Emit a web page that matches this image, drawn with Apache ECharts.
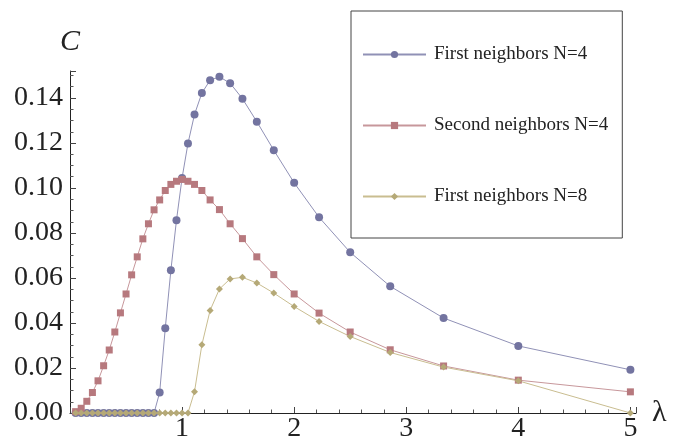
<!DOCTYPE html>
<html><head><meta charset="utf-8">
<script src="https://cdn.jsdelivr.net/npm/echarts@6/dist/echarts.min.js"></script>
<style>html,body{margin:0;padding:0;background:#fff}#c{width:687px;height:439px}</style>
</head><body><div id="c"></div>
<script>
// λ sample points
const lambda = [0.05,0.10,0.15,0.20,0.25,0.30,0.35,0.40,0.45,0.50,
  0.55,0.60,0.65,0.70,0.75,0.80,0.85,0.90,0.95,1.00,
  1.0526,1.1111,1.1765,1.25,1.3333,1.4286,1.5385,1.6667,1.8182,2.0,
  2.2222,2.5,2.8571,3.3333,4.0,5.0];
const firstN4 = [0,0,0,0,0,0,0,0,0,0,
  0,0,0,0,0,0.0091,0.0377,0.0634,0.0857,0.1045,
  0.1198,0.1327,0.1422,0.1479,0.1494,0.1466,0.1397,0.1295,0.1168,0.1023,
  0.0870,0.0714,0.0563,0.0422,0.0298,0.0192];
const secondN4 = [0.0006,0.0021,0.0052,0.0091,0.0143,0.0210,0.0280,0.0360,0.0445,0.0529,
  0.0614,0.0694,0.0774,0.0841,0.0903,0.0947,0.0989,0.1016,0.1030,0.1038,
  0.1030,0.1016,0.0989,0.0947,0.0904,0.0841,0.0775,0.0694,0.0615,0.0529,
  0.0444,0.0360,0.0281,0.0209,0.0146,0.0094];
const firstN8 = [0,0,0,0,0,0,0,0,0,0,
  0,0,0,0,0,0,0,0,0,0,
  0,0.0095,0.0303,0.0456,0.0551,0.0596,0.0603,0.0578,0.0533,0.0473,
  0.0407,0.0340,0.0269,0.0204,0.0143,0.0];
const seriesNames = ['First neighbors N=4','Second neighbors N=4','First neighbors N=8'];
const xTickLabels = [1,2,3,4,5];
const yTickLabels = [0,0.02,0.04,0.06,0.08,0.10,0.12,0.14];

const font = "'Liberation Serif','Times New Roman',serif";
const pair = arr => lambda.map((x,i)=>[x, arr[i]]);
const near = (v, list) => list.some(t => Math.abs(t - v) < 1e-9);

const chart = echarts.init(document.getElementById('c'), null, {renderer:'canvas'});
const axisCommon = {
  type:'value',
  axisLine:{show:true, onZero:false, lineStyle:{color:'#222', width:1}},
  axisTick:{show:true, inside:true, length:6, lineStyle:{color:'#444', width:1}},
  minorTick:{show:true, length:3.5, lineStyle:{color:'#555', width:1}},
  splitLine:{show:false}, minorSplitLine:{show:false}
};
chart.setOption({
  animation:false,
  backgroundColor:'#fff',
  grid:{left:70, right:51, top:71, bottom:26, containLabel:false, outerBoundsMode:'none'},
  xAxis:Object.assign({}, axisCommon, {
    min:0, max:5.05, interval:1,
    minorTick:Object.assign({}, axisCommon.minorTick, {splitNumber:5}),
    name:'λ', nameLocation:'end', nameGap:16,
    nameTextStyle:{fontFamily:font, fontSize:30, color:'#222', align:'left', verticalAlign:'middle', padding:[0,0,4,0]},
    axisLabel:{fontFamily:font, fontSize:28, lineHeight:22, verticalAlign:'top', color:'#222', margin:5,
      showMinLabel:false, showMaxLabel:false,
      formatter: v => near(v, xTickLabels) ? String(v) : ''}
  }),
  yAxis:Object.assign({}, axisCommon, {
    min:0, max:0.152, interval:0.02,
    minorTick:Object.assign({}, axisCommon.minorTick, {splitNumber:4}),
    name:'C', nameLocation:'end', nameGap:29,
    nameTextStyle:{fontFamily:font, fontSize:30, fontStyle:'italic', color:'#222', align:'center', verticalAlign:'middle'},
    axisLabel:{fontFamily:font, fontSize:28, color:'#222', margin:7, showMaxLabel:false,
      formatter: v => near(v, yTickLabels) ? v.toFixed(2) : ''}
  }),
  legend:{
    orient:'vertical', left:351, top:11,
    padding:[34,14,32,11],
    itemWidth:63, itemHeight:9, itemGap:52,
    borderColor:'#444', borderWidth:1, backgroundColor:'#fff',
    textStyle:{fontFamily:font, fontSize:19, color:'#222', padding:[0,0,0,3]},
    data:seriesNames
  },
  series:[
    {name:seriesNames[0], type:'line', data:pair(firstN4), symbol:'circle', symbolSize:8,
      itemStyle:{color:'#7374a0'}, lineStyle:{color:'#9091b6', width:1}, emphasis:{disabled:true}},
    {name:seriesNames[1], type:'line', data:pair(secondN4), symbol:'rect', symbolSize:7,
      itemStyle:{color:'#b7797e'}, lineStyle:{color:'#c7979b', width:1}, emphasis:{disabled:true}},
    {name:seriesNames[2], type:'line', data:pair(firstN8), symbol:'diamond', symbolSize:7,
      itemStyle:{color:'#b5a977'}, lineStyle:{color:'#c9bd90', width:1}, emphasis:{disabled:true}}
  ]
});
</script></body></html>
